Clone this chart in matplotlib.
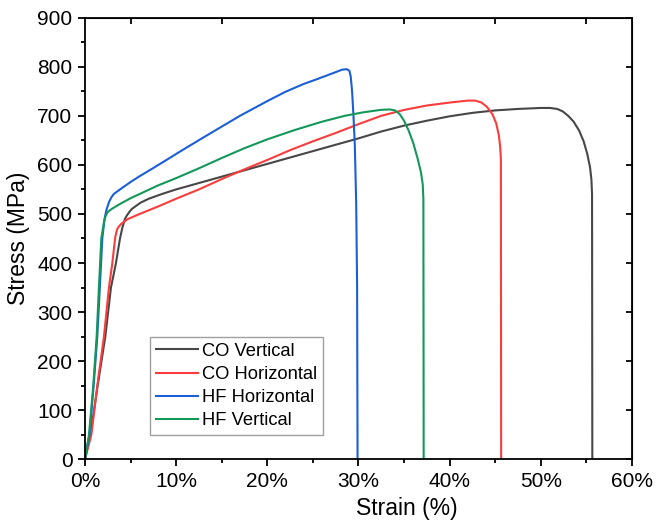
import matplotlib
matplotlib.use("Agg")
import matplotlib.pyplot as plt
from matplotlib.ticker import MultipleLocator, FixedLocator, FuncFormatter

plt.rcParams['font.family'] = ['Liberation Sans', 'DejaVu Sans']

# strain in %, stress in MPa
co_v_strain = [0, 0.6, 1.39, 2.23, 2.85, 3.4, 3.84, 4.1, 4.39, 4.6, 4.9, 5.2, 6.1, 7, 8.5,
               10, 12.5, 15, 17.5, 20, 22.5, 25, 27.5, 30, 32.5, 35, 37.5, 40, 42.5,
               45, 47.5, 50, 51, 51.8, 52.4, 53.0, 53.6, 54.2, 54.7, 55.1, 55.4,
               55.55, 55.62, 55.65]
co_v_stress = [0, 50, 150, 250, 350, 400, 450, 472, 490, 497, 505, 511, 523, 531, 541,
               550, 563, 576, 589, 602, 615, 628, 641, 654, 668, 680, 690, 699, 706,
               711, 714, 716, 716, 714, 709, 700, 688, 670, 648, 622, 595,
               570, 540, 0]

co_h_strain = [0, 0.7, 1.35, 2.08, 2.63, 3.0, 3.3, 3.42, 3.54, 3.7, 4.0, 4.64, 6, 8,
               10, 12.5, 15, 17.5, 20, 22.5, 25, 27.5, 30, 32.5, 35, 37.5, 40, 42,
               42.8, 43.5, 44.1, 44.7, 45.1, 45.4, 45.55, 45.62, 45.65]
co_h_stress = [0, 50, 150, 250, 350, 400, 450, 461, 469, 474, 480, 489, 500, 515,
               531, 550, 571, 591, 610, 630, 648, 665, 683, 700, 712, 721, 727, 731,
               731, 727, 718, 703, 685, 660, 635, 610, 0]

hf_h_strain = [0, 0.5, 0.95, 1.35, 1.63, 1.9, 2.15, 2.35, 2.63, 2.9, 3.18, 4.0, 5, 6, 7,
               8.5, 10.5, 13, 15, 17, 20, 22, 24, 25.5, 26.5, 27.5, 28.2, 28.7, 29.0,
               29.15, 29.3, 29.45, 29.6, 29.75, 29.85, 29.9]
hf_h_stress = [0, 50, 150, 250, 350, 450, 490, 508, 524, 534, 541, 552, 565, 577, 588,
               605, 628, 656, 678, 700, 730, 749, 765, 775, 782, 789, 794, 795, 792,
               780, 750, 700, 640, 520, 350, 0]

hf_v_strain = [0, 0.44, 0.91, 1.28, 1.53, 1.79, 2.08, 2.25, 2.45, 2.7, 3.0, 4.0, 5.0,
               6.5, 8, 10, 12.5, 15, 17.5, 20, 23, 26, 28.5, 30.5, 32.4, 33.4, 34.0,
               34.5, 35.0, 35.5, 36.0, 36.5, 36.85, 37.05, 37.12, 37.15]
hf_v_stress = [0, 50, 150, 250, 350, 450, 483, 495, 503, 507, 511, 522, 532,
               545, 558, 573, 593, 614, 634, 652, 671, 688, 700, 707, 712, 713, 711,
               704, 690, 670, 645, 612, 585, 560, 530, 0]

fig = plt.figure(figsize=(6.67, 5.29), dpi=100)
ax = fig.add_axes([0.1274, 0.1318, 0.8201, 0.8348])

lw = 1.5
ax.plot(co_v_strain, co_v_stress, color='#474747', lw=lw, label='CO Vertical')
ax.plot(co_h_strain, co_h_stress, color='#fa3c3c', lw=lw, label='CO Horizontal')
ax.plot(hf_h_strain, hf_h_stress, color='#1a5fd6', lw=lw, label='HF Horizontal')
ax.plot(hf_v_strain, hf_v_stress, color='#13985a', lw=lw, label='HF Vertical')

ax.set_xlim(0, 60)
ax.set_ylim(0, 900)
ax.xaxis.set_major_locator(MultipleLocator(10))
ax.xaxis.set_minor_locator(MultipleLocator(5))
ax.yaxis.set_major_locator(MultipleLocator(100))
ax.yaxis.set_minor_locator(MultipleLocator(50))
ax.xaxis.set_major_formatter(FuncFormatter(lambda v, p: '%d%%' % v))

for s in ax.spines.values():
    s.set_linewidth(1.3)
ax.tick_params(which='major', direction='out', length=5, width=1.3, labelsize=15, pad=4)
ax.tick_params(which='minor', direction='out', length=3, width=1.3)

# inward ticks on top and right
axt = ax.secondary_xaxis('top')
axt.xaxis.set_major_locator(FixedLocator([5, 15, 25, 35, 45, 55]))
axt.tick_params(direction='in', length=4, width=1.3, labeltop=False)
axr = ax.secondary_yaxis('right')
axr.yaxis.set_major_locator(MultipleLocator(100))
axr.tick_params(direction='in', length=4, width=1.3, labelright=False)

ax.set_xlabel('Strain (%)', fontsize=16.5)
ax.set_ylabel('Stress (MPa)', fontsize=16.5)
ax.xaxis.set_label_coords(0.589, -0.085)
ax.yaxis.set_label_coords(-0.1, 0.5)

leg = ax.legend(loc='upper left', bbox_to_anchor=(0.119, 0.276), borderaxespad=0,
                fontsize=13.2, frameon=True, fancybox=False, handlelength=2.3,
                handletextpad=0.25, labelspacing=0.33, borderpad=0.3)
leg.get_frame().set_edgecolor('#888888')
leg.get_frame().set_linewidth(1.0)

fig.savefig('out.png', dpi=100)
